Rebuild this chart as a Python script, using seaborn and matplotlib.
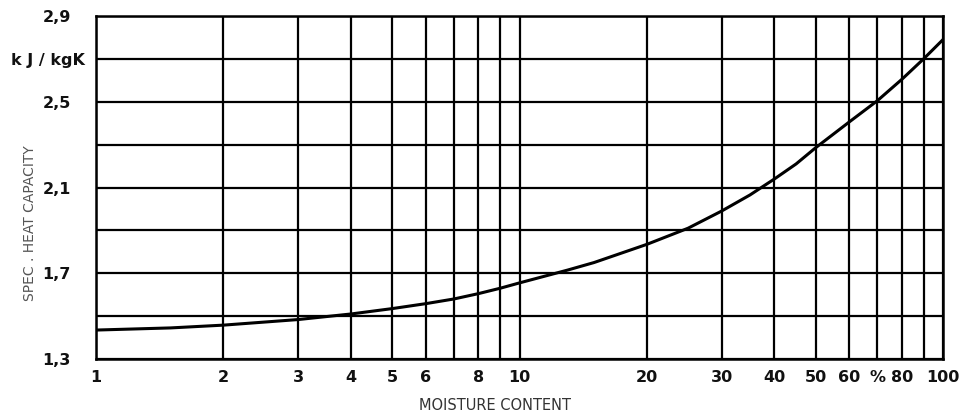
import matplotlib
matplotlib.use("Agg")
import matplotlib.pyplot as plt
import matplotlib.transforms as mtransforms
import seaborn as sns
import pandas as pd

# Data
moisture = [1, 1.5, 2, 3, 4, 5, 6, 7, 8, 9, 10, 13, 15, 20, 25, 30, 35, 40, 45, 50, 60, 70, 80, 90, 100]
heat_cap = [1.435, 1.445, 1.458, 1.484, 1.51, 1.535, 1.558, 1.58, 1.605, 1.63, 1.655, 1.715, 1.75,
            1.835, 1.91, 1.99, 2.065, 2.14, 2.21, 2.285, 2.405, 2.505, 2.605, 2.70, 2.79]

x_ticks = [1, 2, 3, 4, 5, 6, 7, 8, 9, 10, 20, 30, 40, 50, 60, 70, 80, 90, 100]
x_tick_labels = ["1", "2", "3", "4", "5", "6", "", "8", "", "10", "20", "30", "40",
                 "50", "60", "%", "80", "", "100"]
y_ticks = [1.3, 1.5, 1.7, 1.9, 2.1, 2.3, 2.5, 2.7, 2.9]
y_tick_labels = ["1,3", "", "1,7", "", "2,1", "", "2,5", "k J / kgK", "2,9"]

df = pd.DataFrame({"moisture": moisture, "heat": heat_cap})

sns.set_style("white")
plt.rcParams["font.family"] = ["DejaVu Sans"]

fig = plt.figure(figsize=(9.61, 4.16), dpi=100)
ax = fig.add_axes([96 / 961, 1 - 359 / 416, (943 - 96) / 961, (359 - 16) / 416])

sns.lineplot(data=df, x="moisture", y="heat", ax=ax, color="black", linewidth=2.2)

ax.set_xscale("log")
ax.set_xlim(1, 100)
ax.set_ylim(1.3, 2.9)
ax.minorticks_off()
ax.set_xticks(x_ticks)
ax.set_xticklabels(x_tick_labels)
ax.set_yticks(y_ticks)
ax.set_yticklabels(y_tick_labels)
ax.minorticks_off()

ax.grid(True, color="black", linewidth=1.6)
ax.set_axisbelow(True)
for s in ax.spines.values():
    s.set_visible(True)
    s.set_color("black")
    s.set_linewidth(1.8)

ax.tick_params(axis="x", length=0, pad=8, labelsize=11.5)
ax.tick_params(axis="y", length=0, pad=18, labelsize=11.5)
for lab in ax.get_xticklabels() + ax.get_yticklabels():
    lab.set_fontweight("bold")
    lab.set_color("#111111")

# shift the unit label slightly toward the axis
for lab in ax.get_yticklabels():
    if "kgK" in lab.get_text():
        lab.set_transform(lab.get_transform() +
                          mtransforms.ScaledTranslation(10 / 72, 0, fig.dpi_scale_trans))

ax.set_xlabel("MOISTURE CONTENT", fontsize=10.5, color="#333333")
ax.set_ylabel("SPEC . HEAT CAPACITY", fontsize=10, color="#555555")
ax.xaxis.set_label_coords((495 - 96) / 847, (359 - 405) / 343)
ax.yaxis.set_label_coords((30 - 96) / 847, (359 - 223) / 343)
ax.xaxis.label.set_va("center")
ax.yaxis.label.set_va("center")

fig.savefig("out.png", dpi=100)
